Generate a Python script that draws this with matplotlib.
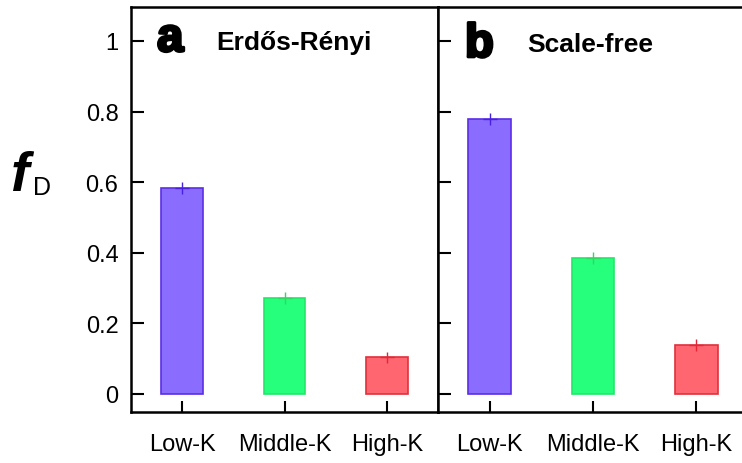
import matplotlib
matplotlib.use("Agg")
import matplotlib.pyplot as plt
import matplotlib.patheffects as pe

plt.rcParams['font.family'] = ['Liberation Sans', 'DejaVu Sans']

categories = ["Low-K", "Middle-K", "High-K"]
er_values = [0.583, 0.272, 0.104]
er_errors = [0.016, 0.016, 0.016]
sf_values = [0.779, 0.385, 0.139]
sf_errors = [0.016, 0.016, 0.016]
yticks = [0, 0.2, 0.4, 0.6, 0.8, 1]
ytick_labels = ["0", "0.2", "0.4", "0.6", "0.8", "1"]

face_colors = ["#8a6cff", "#26ff7c", "#ff6670"]
edge_colors = ["#5a2ee6", "#22e868", "#e0303c"]
err_colors = ["#4a20e0", "#30d860", "#e02838"]

fig = plt.figure(figsize=(7.42, 4.64), dpi=100)
H = 464.0
W = 742.0
ax1 = fig.add_axes([131 / W, (H - 413) / H, 307 / W, 405 / H])
ax2 = fig.add_axes([438 / W, (H - 413) / H, 310 / W, 405 / H])

panels = [
    (ax1, er_values, er_errors, "a", "Erdős-Rényi", (0.085, 0.891), (0.277, 0.896)),
    (ax2, sf_values, sf_errors, "b", "Scale-free", (0.087, 0.877), (0.287, 0.891)),
]

xs = list(range(len(categories)))
for ax, vals, errs, letter, title, lpos, tpos in panels:
    ax.bar(xs, vals, width=0.41, color=face_colors, edgecolor=edge_colors,
           linewidth=1.2, zorder=2)
    for x, v, e, c in zip(xs, vals, errs, err_colors):
        ax.errorbar(x, v, yerr=e, fmt="_", color=c, ecolor=c, elinewidth=1.0,
                    markersize=10, markeredgewidth=1.0, capsize=0, zorder=3)
    ax.set_xlim(-0.5, 2.5)
    ax.set_ylim(-0.051, 1.096)
    ax.set_xticks(xs)
    ax.set_xticklabels(categories, fontsize=17)
    ax.set_yticks(yticks)
    ax.tick_params(axis="x", direction="in", length=8, width=1.5, pad=15,
                   top=False)
    ax.tick_params(axis="y", direction="in", length=9, width=1.5, pad=9,
                   right=False, labelsize=17)
    for s in ax.spines.values():
        s.set_linewidth(1.8)
    ax.text(lpos[0], lpos[1], letter, transform=ax.transAxes, fontsize=34,
            fontweight="bold", va="baseline", ha="left",
            path_effects=[pe.withStroke(linewidth=2.2, foreground="black")])
    ax.text(tpos[0], tpos[1], title, transform=ax.transAxes, fontsize=19,
            fontweight="bold", va="baseline", ha="left")

ax1.set_yticklabels(ytick_labels)
ax2.set_yticklabels([])

fig.text(11 / W, (H - 191) / H, "f", fontsize=40, fontweight="bold",
         fontstyle="italic", ha="left", va="baseline")
fig.text(33 / W, (H - 195) / H, "D", fontsize=18, ha="left", va="baseline")

fig.savefig("out.png", dpi=100)
